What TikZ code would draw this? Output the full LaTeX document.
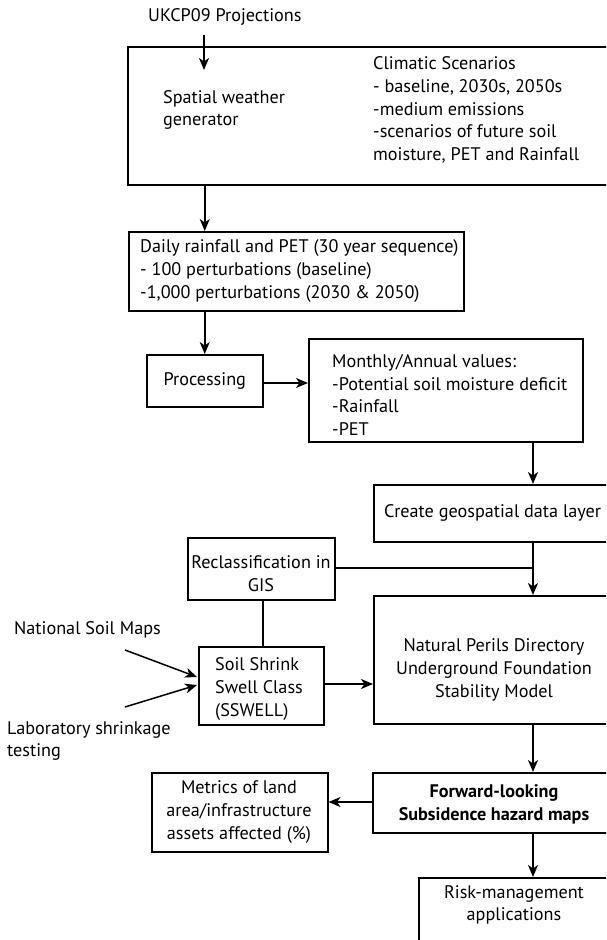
\documentclass[tikz,border=0pt]{standalone}
\usepackage{fontspec}
\setmainfont{PT Sans}
\usetikzlibrary{arrows.meta}
\begin{document}
\begin{tikzpicture}[x=1pt,y=-1pt,
  box/.style={draw, line width=1.5pt, inner sep=0pt, anchor=north west},
  txt/.style={inner sep=0pt, align=left, font=\fontsize{18.2}{22.7}\selectfont},
  ctxt/.style={inner sep=0pt, align=center, font=\fontsize{18.2}{22.7}\selectfont},
  arr/.style={-{Stealth[length=12pt,width=10pt,inset=3.5pt]}, line width=1.5pt},
  ln/.style={line width=1.5pt}]
\useasboundingbox (0,0) rectangle (606,940);
\clip (0,0) rectangle (606,940);
% boxes
\node[box, minimum width=495pt, minimum height=138pt] (wg) at (127,46) {};
\node[box, minimum width=335pt, minimum height=79pt] (daily) at (128,231) {};
\node[box, minimum width=116pt, minimum height=52pt] (proc) at (146,354) {};
\node[box, minimum width=274pt, minimum height=103pt] (month) at (308,338) {};
\node[box, minimum width=245pt, minimum height=57pt] (geo) at (373,484) {};
\node[box, minimum width=147pt, minimum height=62pt] (recl) at (187,537) {};
\node[box, minimum width=125pt, minimum height=78pt] (ssw) at (198,646) {};
\node[box, minimum width=245pt, minimum height=128pt] (npd) at (373,595) {};
\node[box, minimum width=245pt, minimum height=60pt] (fwd) at (372,772) {};
\node[box, minimum width=176pt, minimum height=79pt] (met) at (151,772) {};
\node[box, minimum width=192pt, minimum height=90pt] (risk) at (418,877) {};
% texts
\node[txt, anchor=west] (ukcp) at (148,17) {UKCP09 Projections};
\node[txt, anchor=west] (swg) at (163,110) {Spatial weather\\generator};
\node[txt, anchor=west] (clim) at (373,110) {Climatic Scenarios\\- baseline, 2030s, 2050s\\-medium emissions\\-scenarios of future soil\\moisture, PET and Rainfall};
\node[txt, anchor=west] (dailyt) at (140,271) {Daily rainfall and PET (30 year sequence)\\- 100 perturbations (baseline)\\-1,000 perturbations (2030 \& 2050)};
\node[ctxt] (proct) at (proc.center) {Processing};
\node[txt, anchor=west] (montht) at (332,395) {Monthly/Annual values:\\-Potential soil moisture deficit\\-Rainfall\\-PET};
\node[txt, anchor=west] (geot) at (384,513) {Create geospatial data layer};
\node[ctxt] (reclt) at (261,574) {Reclassification in\\GIS};
\node[txt, anchor=west] (sswt) at (215,689) {Soil Shrink\\Swell Class\\(SSWELL)};
\node[ctxt] (npdt) at (494,670) {Natural Perils Directory\\Underground Foundation\\Stability Model};
\node[ctxt, font=\fontsize{18.2}{22.7}\selectfont\bfseries] (fwdt) at (494,804) {Forward-looking\\Subsidence hazard maps};
\node[ctxt] (mett) at (239,812) {Metrics of land\\area/infrastructure\\assets affected (\%)};
\node[ctxt] (riskt) at (514,905) {Risk-management\\applications};
\node[txt, anchor=west] (nsm) at (14,630) {National Soil Maps};
\node[txt, anchor=west] (lab) at (7,741) {Laboratory shrinkage\\testing};
% coordinates
\coordinate (ukcpa) at (204,35);
\coordinate (swgtop) at (204,70);
\coordinate (nsma) at (125,650);
\coordinate (nsmb) at (197,677);
\coordinate (laba) at (125,707);
\coordinate (labb) at (197,685);
\coordinate (vx) at (533,0);
\coordinate (join) at (533,568);
% connectors
\draw[arr] (ukcpa) -- (swgtop);
\draw[arr] (wg.south -| proc.north) -- (daily.north -| proc.north);
\draw[arr] (daily.south -| proc.north) -- (proc.north);
\draw[arr] (proc.east |- 0,383) -- (month.west |- 0,383);
\draw[arr] (month.south -| vx) -- (geo.north -| vx);
\draw[arr] (geo.south -| vx) -- (npd.north -| vx);
\draw[ln] (recl.east |- join) -- (join);
\draw[ln] (recl.south -| 263,0) -- (ssw.north -| 263,0);
\draw[arr] (ssw.east |- 0,684) -- (npd.west |- 0,684);
\draw[arr] (nsma) -- (nsmb);
\draw[arr] (laba) -- (labb);
\draw[arr] (npd.south -| vx) -- (fwd.north -| vx);
\draw[arr] (fwd.west |- 0,802) -- (met.east |- 0,802);
\draw[arr] (fwd.south -| vx) -- (risk.north -| vx);
\end{tikzpicture}
\end{document}
